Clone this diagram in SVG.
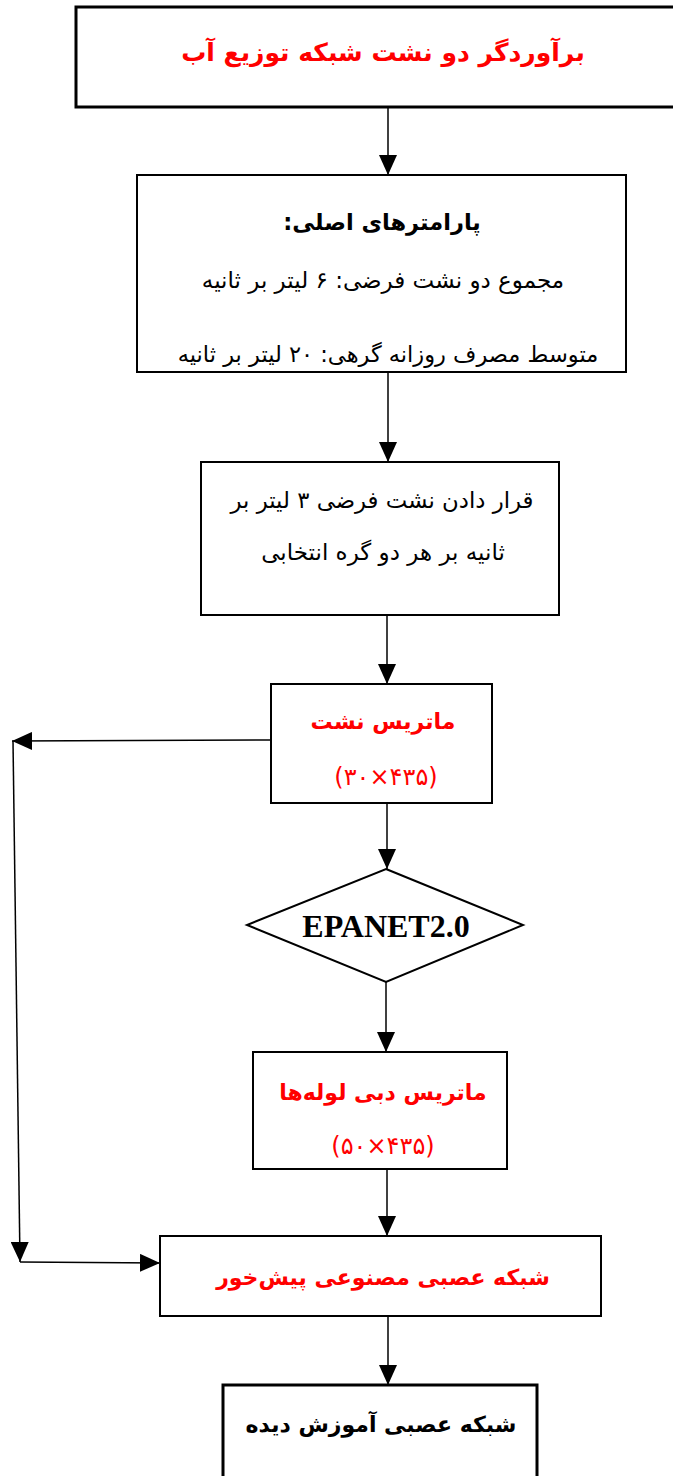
<svg xmlns="http://www.w3.org/2000/svg" width="673" height="1476" viewBox="0 0 673 1476">
<defs>
<style>
.box{fill:#fff;stroke:#000;stroke-width:2}
.thick{stroke-width:3}
.ln{stroke:#000;stroke-width:1.5;fill:none}
.fa{font-family:"DejaVu Sans",sans-serif;direction:rtl;text-anchor:middle}
.b{font-weight:bold}
.red{fill:#ff0000}
.blk{fill:#000}
</style>
<marker id="ah" markerUnits="userSpaceOnUse" markerWidth="20" markerHeight="18" viewBox="0 0 20 18" refX="20" refY="9" orient="auto">
<path d="M0,0 L20,9 L0,18 Z" fill="#000"/>
</marker>
</defs>
<g id="connectors">
<line class="ln" x1="388" y1="107" x2="388" y2="175" marker-end="url(#ah)"/>
<line class="ln" x1="388" y1="372" x2="388" y2="462" marker-end="url(#ah)"/>
<line class="ln" x1="387" y1="615" x2="387" y2="684" marker-end="url(#ah)"/>
<line class="ln" x1="387" y1="803" x2="387" y2="869" marker-end="url(#ah)"/>
<line class="ln" x1="386" y1="982" x2="386" y2="1052" marker-end="url(#ah)"/>
<line class="ln" x1="387" y1="1169" x2="387" y2="1236" marker-end="url(#ah)"/>
<line class="ln" x1="388" y1="1316" x2="388" y2="1385" marker-end="url(#ah)"/>
<line class="ln" x1="271" y1="740" x2="12" y2="741" marker-end="url(#ah)"/>
<line class="ln" x1="13" y1="741" x2="20" y2="1262" marker-end="url(#ah)"/>
<line class="ln" x1="20" y1="1262" x2="160" y2="1263" marker-end="url(#ah)"/>
</g>
<g id="n1">
<rect class="box thick" x="76" y="7" width="612" height="100"/>
<text class="fa b red" x="383" y="61" font-size="25">برآوردگر دو نشت شبکه توزیع آب</text>
</g>
<g id="n2">
<rect class="box" x="137" y="175" width="489" height="197"/>
<text class="fa b blk" x="382" y="230" font-size="22.5">پارامترهای اصلی:</text>
<text class="fa blk" x="383" y="288" font-size="23">مجموع دو نشت فرضی: ۶ لیتر بر ثانیه</text>
<text class="fa blk" x="388" y="362" font-size="22.5">متوسط مصرف روزانه گرهی: ۲۰ لیتر بر ثانیه</text>
</g>
<g id="n3">
<rect class="box" x="201" y="462" width="358" height="153"/>
<text class="fa blk" x="382" y="508" font-size="22.8">قرار دادن نشت فرضی ۳ لیتر بر</text>
<text class="fa blk" x="383" y="560" font-size="23">ثانیه بر هر دو گره انتخابی</text>
</g>
<g id="n4">
<rect class="box" x="271" y="684" width="221" height="119"/>
<text class="fa b red" x="383" y="729" font-size="22">ماتریس نشت</text>
<text class="red" x="386" y="785" font-size="24" font-family="DejaVu Sans, sans-serif" text-anchor="middle">(۳۰×۴۳۵)</text>
</g>
<g id="n5">
<polygon points="386,869 523,925 386,982 247,925" fill="#fff" stroke="#000" stroke-width="2"/>
<text x="386" y="937" font-size="32" font-weight="bold" font-family="Liberation Serif, serif" text-anchor="middle">EPANET2.0</text>
</g>
<g id="n6">
<rect class="box" x="253" y="1052" width="254" height="117"/>
<text class="fa b red" x="383" y="1100" font-size="22">ماتریس دبی لوله‌ها</text>
<text class="red" x="383" y="1154" font-size="24" font-family="DejaVu Sans, sans-serif" text-anchor="middle">(۵۰×۴۳۵)</text>
</g>
<g id="n7">
<rect class="box" x="160" y="1236" width="441" height="80"/>
<text class="fa b red" x="383" y="1285" font-size="22">شبکه عصبی مصنوعی پیش‌خور</text>
</g>
<g id="n8">
<rect class="box thick" x="223" y="1385" width="314" height="110"/>
<text class="fa b blk" x="381" y="1432" font-size="22">شبکه عصبی آموزش دیده</text>
</g>
</svg>
